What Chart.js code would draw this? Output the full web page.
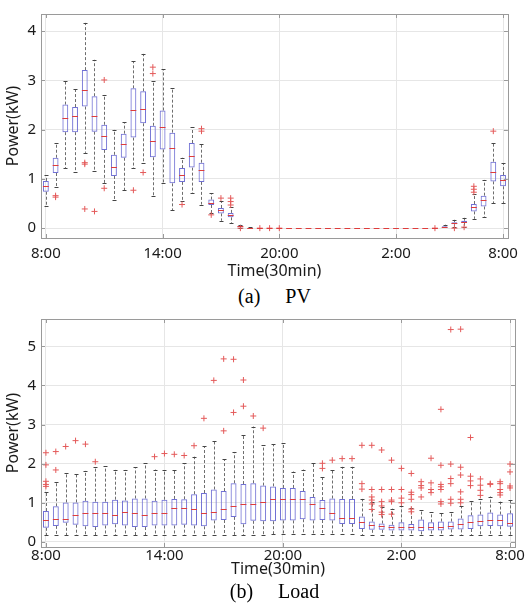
<!DOCTYPE html>
<html>
<head>
<meta charset="utf-8">
<script src="https://cdn.jsdelivr.net/npm/chart.js@4.4.1/dist/chart.umd.min.js"></script>
<style>
body { margin: 0; background: #fff; }
#wrap { position: relative; width: 525px; height: 613px; }
.box { position: absolute; left: 0; width: 525px; }
.cap { position: absolute; left: 12px; width: 525px; text-align: center; white-space: pre;
       font-family: "Liberation Serif", "Times New Roman", serif; font-size: 20px; color: #000; }
</style>
</head>
<body>
<div id="wrap">
  <div class="box" style="top:0;height:282px"><canvas id="pv"></canvas></div>
  <div class="cap" style="top:285px">(a)     PV</div>
  <div class="box" style="top:300px;height:282px"><canvas id="load"></canvas></div>
  <div class="cap" style="top:580px">(b)     Load</div>
</div>
<script>
// half-hour slots, 8:00 -> 7:30 next day
const slots = [1,2,3,4,5,6,7,8,9,10,11,12,13,14,15,16,17,18,19,20,21,22,23,24,
               25,26,27,28,29,30,31,32,33,34,35,36,37,38,39,40,41,42,43,44,45,46,47,48];
const tickPos = [1, 13, 25, 37, 48];
const tickText = ['8:00', '14:00', '20:00', '2:00', '8:00'];

// PV (kW)
const pvLow  = [0.44,0.83,1.22,1.15,1.53,1.16,0.91,0.57,0.77,1.22,1.33,0.66,0.91,0.36,0.56,0.71,0.48,0.30,0.15,0.10,
                0,0,0,0,0,0,0,0,0,0,0,0,0,0,0,0,0,0,0,0,0,0,0.03,0.03,0.19,0.22,0.51,0.51];
const pvQ1   = [0.74,1.12,1.95,1.95,2.47,1.96,1.59,1.06,1.43,1.84,2.13,1.44,1.60,0.91,0.94,1.23,0.94,0.47,0.30,0.22,
                0.02,0,0,0,0,0,0,0,0,0,0,0,0,0,0,0,0,0,0,0,0,0,0.08,0.11,0.34,0.44,0.95,0.85];
const pvMed  = [0.86,1.28,2.23,2.27,2.81,2.27,1.87,1.24,1.70,2.41,2.43,1.77,2.05,1.63,1.08,1.47,1.18,0.52,0.36,0.26,
                0.04,0.005,0,0,0,0,0,0,0,0,0,0,0,0,0,0,0,0,0,0,0,0.02,0.10,0.13,0.42,0.57,1.15,0.98];
const pvQ3   = [0.96,1.43,2.51,2.46,3.21,2.68,2.10,1.49,1.92,2.84,2.78,2.08,2.39,1.94,1.22,1.73,1.33,0.58,0.41,0.31,
                0.05,0.01,0,0,0,0,0,0,0,0,0,0,0,0,0,0,0,0,0,0,0,0.04,0.12,0.15,0.49,0.66,1.35,1.08];
const pvHigh = [1.08,1.73,2.98,2.83,4.17,3.42,2.71,2.00,2.15,3.39,3.54,2.99,3.23,2.84,1.43,2.05,1.71,0.71,0.55,0.42,
                0.07,0.02,0,0,0,0,0,0,0,0,0,0,0,0,0,0,0,0,0,0,0,0.07,0.17,0.21,0.69,0.98,1.72,1.32];
const pvOut  = [[],[0.66,0.63],[],[],[1.33,1.30,0.39],[0.34],[3.01,0.81],[],[],[0.77],[1.13],[3.27,3.14],[],[],[0.48],[],
                [2.02,1.97],[0.27],[0.61],[0.61,0.54,0.47],[0],[],[0],[0],[0],[],[],[],[],[],[],[],[],[],[],[],[],[],[],[],
                [0],[],[0],[0.02],[0.85,0.79,0.73],[],[1.97],[]];

// Load (kW)
const loadLow  = [0.17,0.17,0.17,0.17,0.17,0.17,0.17,0.17,0.17,0.17,0.17,0.17,0.17,0.17,0.17,0.17,0.17,0.17,0.17,0.17,
                  0.17,0.17,0.17,0.20,0.20,0.20,0.20,0.20,0.20,0.20,0.20,0.20,0.18,0.18,0.18,0.18,0.18,0.18,0.18,0.18,
                  0.18,0.18,0.18,0.18,0.18,0.18,0.18,0.18];
const loadQ1   = [0.36,0.41,0.49,0.44,0.40,0.38,0.42,0.45,0.42,0.38,0.38,0.42,0.42,0.42,0.44,0.42,0.40,0.55,0.56,0.64,
                  0.45,0.54,0.53,0.53,0.55,0.55,0.58,0.55,0.56,0.55,0.46,0.46,0.33,0.31,0.31,0.29,0.29,0.29,0.27,0.29,
                  0.29,0.32,0.32,0.33,0.40,0.41,0.40,0.39];
const loadMed  = [0.56,0.58,0.58,0.68,0.73,0.75,0.73,0.70,0.76,0.73,0.70,0.75,0.73,0.88,0.88,0.84,0.73,0.76,0.84,0.91,
                  0.98,0.98,1.01,1.11,1.11,1.11,1.10,0.96,0.88,0.73,0.62,0.62,0.51,0.43,0.40,0.37,0.38,0.38,0.38,0.38,
                  0.38,0.40,0.45,0.51,0.54,0.56,0.57,0.49];
const loadQ3   = [0.79,0.91,1.01,1.01,1.05,1.03,1.03,1.08,1.06,1.11,1.11,1.05,1.08,1.10,1.09,1.22,1.25,1.34,1.30,1.50,
                  1.48,1.50,1.44,1.42,1.38,1.38,1.30,1.15,1.07,1.11,1.10,1.10,0.65,0.52,0.47,0.44,0.50,0.46,0.57,0.50,
                  0.52,0.52,0.60,0.68,0.70,0.75,0.70,0.73];
const loadHigh = [1.28,1.54,1.77,1.74,1.82,1.92,1.94,1.85,1.84,1.91,2.01,1.85,1.84,1.84,2.01,2.18,2.45,2.57,2.11,2.30,
                  2.73,2.95,2.47,2.50,2.52,1.80,1.85,2.01,1.67,1.84,1.92,1.92,1.10,1.02,0.90,0.85,0.93,0.88,0.81,0.76,
                  0.73,0.77,0.92,1.04,1.09,1.16,1.03,1.07];
const loadOut  = [[2.28,1.97,1.55,1.47,1.42],[2.31,1.84],[2.44],[2.59],[2.50],[2.05],[],[],[],[],[],[2.18],[2.26],[2.24],
                  [2.21],[2.46],[3.16],[4.13],[4.68,2.84],[4.67,3.31],[4.14,3.47],[3.22],[2.91],[],[],[],[],[],
                  [2.01,1.88],[2.09],[2.13],[2.13],[2.47,1.49,1.35],[2.47,1.34,1.15,1.07,0.97,0.83],
                  [2.35,1.34,1.03,0.92,0.76,0.70],[2.09,1.34,1.07,1.03,0.71],[1.88,1.34,1.12,1.00],
                  [1.75,1.27,1.21,1.09,0.84,0.77],[1.54,1.44,1.38,1.15],[2.14,1.51,1.34,1.26],
                  [3.39,1.96,1.47,1.41,1.34,1.03,0.97],[5.43,1.99,1.62,1.49,1.09,0.99],[5.44,1.91,1.71,1.28,1.09,1.00],
                  [2.67,1.68,1.56,1.44],[1.61,1.45,1.32,1.19],[1.49,1.47],[1.54,1.49,1.34,1.26,1.20],[1.99,1.79,1.43,1.38]];

const BOX = 'rgb(112,112,212)';
const MED = 'rgb(222,60,60)';
const OUT = 'rgb(228,90,90)';
const WHISK = '#6e6e6e';
const FONT = '"Noto Sans", "Liberation Sans", Arial, sans-serif';

// whiskers under the boxes, medians on top
const boxPlugin = {
  id: 'boxes',
  beforeDatasetsDraw(chart) {
    const ds = chart.data.datasets[0];
    const bars = chart.getDatasetMeta(0).data;
    const y = chart.scales.y;
    const ctx = chart.ctx;
    ctx.save();
    ctx.lineWidth = 1;
    bars.forEach((bar, i) => {
      const cx = Math.round(bar.x) + 0.5;
      const q1 = ds.data[i].y[0], q3 = ds.data[i].y[1];
      const lo = ds.lows[i], hi = ds.highs[i];
      ctx.strokeStyle = WHISK;
      ctx.setLineDash([3, 2]);
      ctx.beginPath();
      if (hi > q3) { ctx.moveTo(cx, y.getPixelForValue(q3)); ctx.lineTo(cx, y.getPixelForValue(hi)); }
      if (lo < q1) { ctx.moveTo(cx, y.getPixelForValue(q1)); ctx.lineTo(cx, y.getPixelForValue(lo)); }
      ctx.stroke();
      ctx.setLineDash([]);
      ctx.strokeStyle = '#444';
      ctx.beginPath();
      if (hi > q3) { const p = Math.round(y.getPixelForValue(hi)) + 0.5; ctx.moveTo(cx - 2, p); ctx.lineTo(cx + 2, p); }
      if (lo < q1) { const p = Math.round(y.getPixelForValue(lo)) + 0.5; ctx.moveTo(cx - 2, p); ctx.lineTo(cx + 2, p); }
      ctx.stroke();
    });
    ctx.restore();
  },
  afterDatasetsDraw(chart) {
    const ds = chart.data.datasets[0];
    const bars = chart.getDatasetMeta(0).data;
    const y = chart.scales.y;
    const ctx = chart.ctx;
    ctx.save();
    ctx.strokeStyle = MED;
    ctx.lineWidth = 1;
    ctx.beginPath();
    bars.forEach((bar, i) => {
      const p = Math.round(y.getPixelForValue(ds.meds[i])) + 0.5;
      ctx.moveTo(bar.x - bar.width / 2, p);
      ctx.lineTo(bar.x + bar.width / 2, p);
    });
    ctx.stroke();
    ctx.restore();
  }
};

// axes box with small inward ticks on all sides
const framePlugin = {
  id: 'frame',
  afterDraw(chart) {
    const {ctx, chartArea: a, scales} = chart;
    ctx.save();
    ctx.strokeStyle = '#9a9a9a';
    ctx.lineWidth = 1;
    ctx.strokeRect(Math.round(a.left) + 0.5, Math.round(a.top) + 0.5,
                   Math.round(a.right - a.left), Math.round(a.bottom - a.top));
    ctx.beginPath();
    scales.x.ticks.forEach(t => {
      const px = Math.round(scales.x.getPixelForValue(t.value)) + 0.5;
      ctx.moveTo(px, a.bottom); ctx.lineTo(px, a.bottom - 4);
      ctx.moveTo(px, a.top); ctx.lineTo(px, a.top + 4);
    });
    scales.y.ticks.forEach(t => {
      const py = Math.round(scales.y.getPixelForValue(t.value)) + 0.5;
      ctx.moveTo(a.left, py); ctx.lineTo(a.left + 4, py);
      ctx.moveTo(a.right, py); ctx.lineTo(a.right - 4, py);
    });
    ctx.stroke();
    ctx.restore();
  }
};

function boxChart(id, low, q1, med, q3, high, out, yMin, yMax, lay) {
  const outliers = [];
  out.forEach((list, i) => list.forEach(v => outliers.push({x: slots[i], y: v})));
  new Chart(document.getElementById(id), {
    type: 'bar',
    data: {
      datasets: [
        {
          data: slots.map((s, i) => ({x: s, y: [q1[i], q3[i]]})),
          lows: low, meds: med, highs: high,
          backgroundColor: 'rgba(0,0,0,0)',
          borderColor: BOX,
          borderWidth: 1,
          borderSkipped: false,
          barPercentage: 0.6,
          categoryPercentage: 1
        },
        {
          type: 'scatter',
          data: outliers,
          pointStyle: 'cross',
          radius: 3,
          borderColor: OUT,
          borderWidth: 1
        }
      ]
    },
    options: {
      responsive: true,
      maintainAspectRatio: false,
      animation: false,
      layout: {padding: {top: lay.top, right: 9, left: 0, bottom: 0}},
      plugins: {legend: {display: false}, tooltip: {enabled: false}},
      scales: {
        x: {
          type: 'linear',
          offset: false,
          min: 0.5, max: 48.5,
          afterBuildTicks: s => { s.ticks = tickPos.map(v => ({value: v})); },
          afterFit: s => { s.height = lay.xh; },
          ticks: {
            callback: v => tickText[tickPos.indexOf(v)],
            autoSkip: false, maxRotation: 0,
            padding: lay.tickPad,
            color: '#1a1a1a',
            font: {family: FONT, size: 15}
          },
          grid: {color: '#e6e6e6', drawTicks: false, offset: false},
          border: {display: false},
          title: {display: true, text: 'Time(30min)', color: '#1a1a1a',
                  font: {family: FONT, size: 16}, padding: {top: 0, bottom: lay.titlePad}}
        },
        y: {
          min: yMin, max: yMax,
          afterFit: s => { s.width = 41; },
          ticks: {
            stepSize: 1, includeBounds: false,
            padding: 5,
            color: '#1a1a1a',
            font: {family: FONT, size: 15}
          },
          grid: {color: '#e6e6e6', drawTicks: false},
          border: {display: false},
          title: {display: true, text: 'Power(kW)', color: '#1a1a1a',
                  font: {family: FONT, size: 16}, padding: {top: 4, bottom: 0}}
        }
      }
    },
    plugins: [boxPlugin, framePlugin]
  });
}

boxChart('pv', pvLow, pvQ1, pvMed, pvQ3, pvHigh, pvOut, -0.2, 4.35,
         {top: 12, xh: 44, tickPad: 7, titlePad: 1});
boxChart('load', loadLow, loadQ1, loadMed, loadQ3, loadHigh, loadOut, -0.13, 5.7,
         {top: 19, xh: 35, tickPad: 0, titlePad: 3});
</script>
</body>
</html>
